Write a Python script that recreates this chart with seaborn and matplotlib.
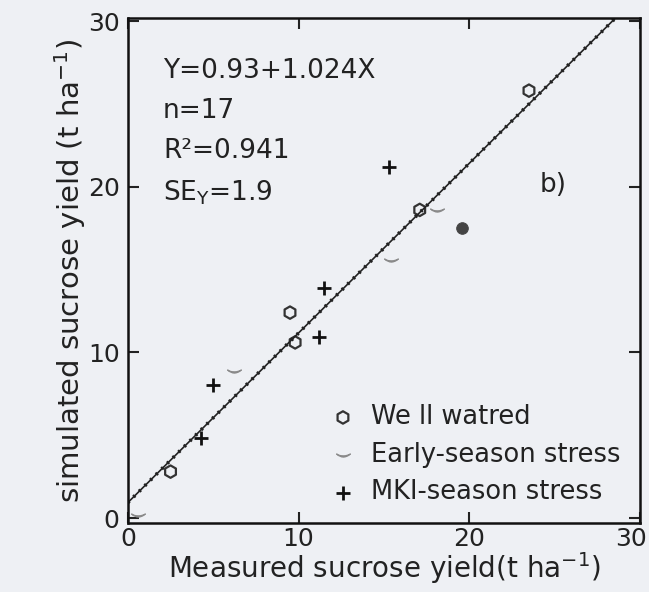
import matplotlib
matplotlib.use("Agg")
import matplotlib.pyplot as plt
import matplotlib.transforms as mtransforms
import seaborn as sns
import numpy as np
import pandas as pd

# ---- data ----
well_x = [17.1, 9.5, 9.8, 2.5, 23.5]
well_y = [18.6, 12.4, 10.6, 2.8, 25.8]
filled_x = [19.6]
filled_y = [17.5]
early_x = [18.1, 15.4, 6.2, 0.6]
early_y = [18.6, 15.6, 8.9, 0.2]
mid_x = [15.3, 11.5, 11.2, 5.0, 4.3]
mid_y = [21.2, 13.9, 10.9, 8.0, 4.8]

labels = ["We ll watred", "Early-season stress", "MKI-season stress"]
intercept, slope = 0.93, 1.024
ticks = [0, 10, 20, 30]
annot = "Y=0.93+1.024X\nn=17\nR²=0.941\nSE$_{\\mathregular{Y}}$=1.9"

df = pd.DataFrame({
    "x": well_x + early_x + mid_x,
    "y": well_y + early_y + mid_y,
    "group": [labels[0]] * len(well_x) + [labels[1]] * len(early_x) + [labels[2]] * len(mid_x),
})
fit_x = np.array([0.0, (30.2 - intercept) / slope])
fit = pd.DataFrame({"x": fit_x, "y": intercept + slope * fit_x})

sns.set_theme(style="ticks")
plt.rcParams["font.family"] = ["DejaVu Sans"]
plt.rcParams["mathtext.fontset"] = "dejavusans"

bg = "#eef0f4"
fig = plt.figure(figsize=(6.49, 5.92), dpi=100, facecolor=bg)
ax = fig.add_axes([0.197, 0.1166, 0.789, 0.8534])
ax.set_facecolor(bg)

# regression line (solid with a dotted "sawtooth" overlay)
sns.lineplot(data=fit, x="x", y="y", ax=ax, color="#222222", lw=1.2, legend=False)
sns.lineplot(data=fit, x="x", y="y", ax=ax, color="#222222", lw=2.6,
             linestyle=(0, (0.6, 1.6)), legend=False)

styles = {
    labels[0]: dict(marker="h", s=80, facecolor="none", edgecolor="#333333", linewidth=1.6),
    labels[1]: dict(marker="$\\smile$", s=100, color="#8a8a8a", edgecolor="#8a8a8a", linewidth=0.8),
    labels[2]: dict(marker="+", s=110, color="#111111", linewidth=2.0),
}
for g in labels:
    sub = df[df["group"] == g]
    sns.scatterplot(data=sub, x="x", y="y", ax=ax, label=g, **styles[g])

sns.scatterplot(x=filled_x, y=filled_y, ax=ax, marker="o", s=70, color="#444444",
                edgecolor="#444444", legend=False)

ax.set_xlim(0, 30)
ax.set_ylim(-0.3, 30.2)
ax.set_xticks(ticks)
ax.set_yticks(ticks)
ax.tick_params(direction="in", length=8, width=1.5, top=True, right=True,
               labelsize=18, colors="#222222", pad=3)
ax.tick_params(axis="y", pad=6)
for sp in ax.spines.values():
    sp.set_linewidth(1.8)
    sp.set_color("#111111")

# keep the last x tick label inside the canvas
last = ax.get_xticklabels()[-1]
last.set_transform(last.get_transform() + mtransforms.ScaledTranslation(-9 / 100, 0, fig.dpi_scale_trans))

ax.set_xlabel("Measured sucrose yield(t ha$^{\\mathregular{-1}}$)", fontsize=20, labelpad=-1, color="#222222")
ax.set_ylabel("simulated sucrose yield (t ha$^{\\mathregular{-1}}$)", fontsize=21, labelpad=0, color="#222222")

ax.text(2.06, 27.75, annot, fontsize=19, va="top", ha="left", linespacing=1.68, color="#222222")
ax.text(24.9, 20.1, "b)", fontsize=19, va="center", ha="center", color="#222222")

leg = ax.legend(loc="center left", bbox_to_anchor=(0.395, 0.135), frameon=False,
                fontsize=18.5, handlelength=1.0, handletextpad=0.6, labelspacing=0.45,
                borderpad=0, borderaxespad=0)
for t in leg.get_texts():
    t.set_color("#222222")

fig.savefig("out.png", dpi=100, facecolor=bg)
